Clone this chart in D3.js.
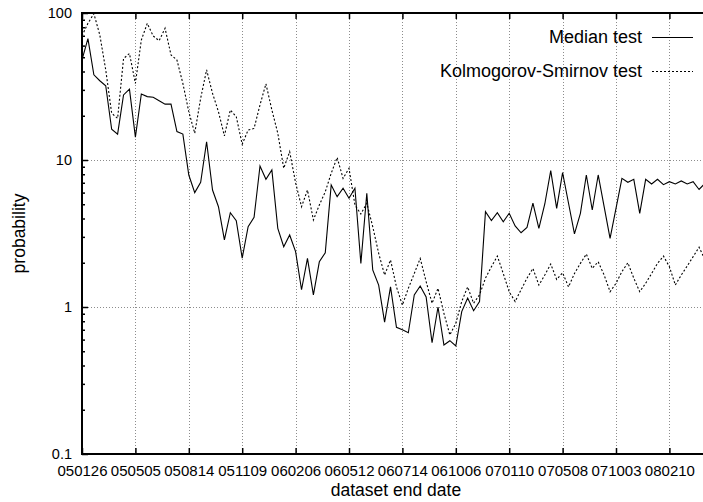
<!DOCTYPE html>
<html>
<head>
<meta charset="utf-8">
<script src="https://cdn.jsdelivr.net/npm/d3@7"></script>
<style>
body { margin: 0; background: #fff; }
text { font-family: "Liberation Sans", Arial, sans-serif; fill: #000; }
</style>
</head>
<body>
<svg width="703" height="502"></svg>
<script>
"use strict";

// tick labels, one every 9 datasets
var dateLabels = ["050126", "050505", "050814", "051109", "060206", "060512",
  "060714", "061006", "070110", "070508", "071003", "080210"];

var yTicks = [0.1, 1, 10, 100];

var medianTest = [48, 67, 38, 34.6, 32, 16.2, 15.0, 27.7, 30.3, 14.3,
  28.1, 27.0, 26.7, 25.3, 24.0, 24.0, 15.6, 15.0, 7.9, 6.0,
  7.05, 13.3, 6.25, 4.81, 2.86, 4.38, 3.87, 2.15, 3.52, 4.07,
  9.1, 7.39, 8.55, 3.43, 2.57, 3.09, 2.38, 1.31, 2.14, 1.21,
  2.03, 2.34, 6.76, 5.63, 6.42, 5.49, 6.42, 1.98, 5.94, 1.79,
  1.41, 0.79, 1.37, 0.727, 0.70, 0.668, 1.21, 1.39, 1.17, 0.571,
  1.0, 0.551, 0.59, 0.543, 0.93, 1.15, 0.944, 1.09, 4.45, 3.87,
  4.38, 3.80, 4.34, 3.56, 3.2, 3.48, 5.08, 3.43, 5.02, 8.46,
  4.69, 8.2, 5.08, 3.14, 4.34, 7.91, 4.57, 7.91, 4.81, 2.93,
  4.69, 7.5, 7.05, 7.39, 4.34, 7.39, 6.87, 7.39, 6.8, 7.12,
  6.87, 7.2, 6.87, 7.12, 6.3, 6.94];

var ksTest = [70, 85, 99, 71, 41, 20.8, 19.2, 49, 53, 33.2,
  65.5, 85, 69.8, 64.8, 78.7, 51.8, 47.9, 33.2, 21.3, 15.2,
  26.3, 41, 28.4, 21.3, 14.6, 21.9, 19.7, 12.8, 16.0, 16.4,
  23.7, 33, 21.9, 15.2, 8.78, 11.4, 7.0, 4.81, 6.25, 3.91,
  4.94, 6.08, 8.12, 10.4, 7.5, 8.78, 4.94, 4.29, 5.08, 3.52,
  2.32, 1.65, 2.09, 1.37, 1.03, 1.34, 1.69, 2.14, 1.49, 1.06,
  1.34, 0.906, 0.645, 0.775, 1.09, 1.37, 1.06, 1.21, 1.57, 1.88,
  2.22, 1.69, 1.27, 1.09, 1.31, 1.57, 1.83, 1.41, 1.65, 1.96,
  1.54, 1.71, 1.37, 1.69, 1.98, 2.29, 1.83, 2.03, 1.65, 1.27,
  1.45, 1.74, 2.0, 1.57, 1.27, 1.45, 1.69, 1.98, 2.22, 1.88,
  1.41, 1.65, 1.9, 2.2, 2.55, 2.1];

var svg = d3.select("svg"),
  x0 = 82, x1 = 705, y0 = 13, y1 = 454;

var x = d3.scaleLinear().domain([0, medianTest.length - 1]).range([x0, x1]),
  y = d3.scaleLog().domain([0.1, 100]).range([y1, y0]);

var tickIdx = dateLabels.map(function(d, i) { return i * 9; });

var minor = [];
[0.1, 1, 10].forEach(function(p) {
  for (var k = 2; k <= 9; k++) minor.push(p * k);
});

svg.append("clipPath").attr("id", "plot")
  .append("rect")
  .attr("x", x0).attr("y", y0)
  .attr("width", x1 - x0).attr("height", y1 - y0);

// grid
var grid = svg.append("g")
  .attr("stroke", "#8c8c8c")
  .attr("stroke-width", 1)
  .attr("stroke-dasharray", "1,2");

grid.selectAll(".vgrid")
  .data(tickIdx.slice(1))
  .enter().append("line")
    .attr("x1", function(d) { return Math.round(x(d)) + 0.5; })
    .attr("x2", function(d) { return Math.round(x(d)) + 0.5; })
    .attr("y1", y0)
    .attr("y2", y1);

grid.selectAll(".hgrid")
  .data([1, 10])
  .enter().append("line")
    .attr("x1", x0)
    .attr("x2", x1)
    .attr("y1", function(d) { return Math.round(y(d)) + 0.5; })
    .attr("y2", function(d) { return Math.round(y(d)) + 0.5; });

// axes, ticks pointing inward
svg.append("g")
  .attr("class", "xaxis")
  .attr("transform", "translate(0," + y1 + ")")
  .call(d3.axisBottom(x)
    .tickValues(tickIdx)
    .tickFormat(function(d, i) { return dateLabels[i]; })
    .tickSize(-6)
    .tickPadding(11));

svg.append("g")
  .attr("transform", "translate(0," + y0 + ")")
  .call(d3.axisTop(x).tickValues(tickIdx).tickFormat("").tickSize(-6));

svg.append("g")
  .attr("class", "yaxis")
  .attr("transform", "translate(" + x0 + ",0)")
  .call(d3.axisLeft(y)
    .tickValues(yTicks)
    .tickFormat(function(d) { return d3.format("~g")(d); })
    .tickSize(-6)
    .tickPadding(10));

svg.append("g")
  .attr("transform", "translate(" + x0 + ",0)")
  .call(d3.axisLeft(y).tickValues(minor).tickFormat("").tickSize(-3));

svg.selectAll(".domain").remove();
svg.selectAll(".tick line").attr("stroke", "#000").attr("stroke-width", 1.5);
svg.selectAll(".tick text")
  .style("font-family", "'Liberation Sans', Arial, sans-serif");
svg.selectAll(".xaxis .tick text").style("font-size", "15px");
svg.selectAll(".yaxis .tick text").style("font-size", "14.5px");

// data lines
var line = d3.line()
  .x(function(d, i) { return x(i); })
  .y(function(d) { return y(d); });

var plot = svg.append("g").attr("clip-path", "url(#plot)");

plot.append("path")
  .attr("d", line(ksTest))
  .attr("fill", "none")
  .attr("stroke", "#000")
  .attr("stroke-width", 1.1)
  .attr("stroke-dasharray", "2,2");

plot.append("path")
  .attr("d", line(medianTest))
  .attr("fill", "none")
  .attr("stroke", "#000")
  .attr("stroke-width", 1.1);

// border
svg.append("rect")
  .attr("x", x0).attr("y", y0)
  .attr("width", x1 - x0).attr("height", y1 - y0)
  .attr("fill", "none")
  .attr("stroke", "#000")
  .attr("stroke-width", 2);

// legend
var legend = [
  {name: "Median test", dash: null, y: 37},
  {name: "Kolmogorov-Smirnov test", dash: "2,2", y: 71}
];

var lg = svg.selectAll(".legend")
  .data(legend)
  .enter().append("g")
    .attr("class", "legend");

lg.append("text")
  .attr("x", 642)
  .attr("y", function(d) { return d.y; })
  .attr("dy", "0.35em")
  .attr("text-anchor", "end")
  .style("font-size", "18px")
  .text(function(d) { return d.name; });

lg.append("line")
  .attr("x1", 652).attr("x2", 693)
  .attr("y1", function(d) { return d.y + 0.5; })
  .attr("y2", function(d) { return d.y + 0.5; })
  .attr("stroke", "#000")
  .attr("stroke-width", 1.1)
  .attr("stroke-dasharray", function(d) { return d.dash; });

// axis titles
svg.append("text")
  .attr("x", 396)
  .attr("y", 496)
  .attr("text-anchor", "middle")
  .style("font-size", "17.5px")
  .text("dataset end date");

svg.append("text")
  .attr("transform", "translate(24.5," + (y0 + y1) / 2 + ") rotate(-90)")
  .attr("text-anchor", "middle")
  .style("font-size", "17.5px")
  .text("probability");
</script>
</body>
</html>
